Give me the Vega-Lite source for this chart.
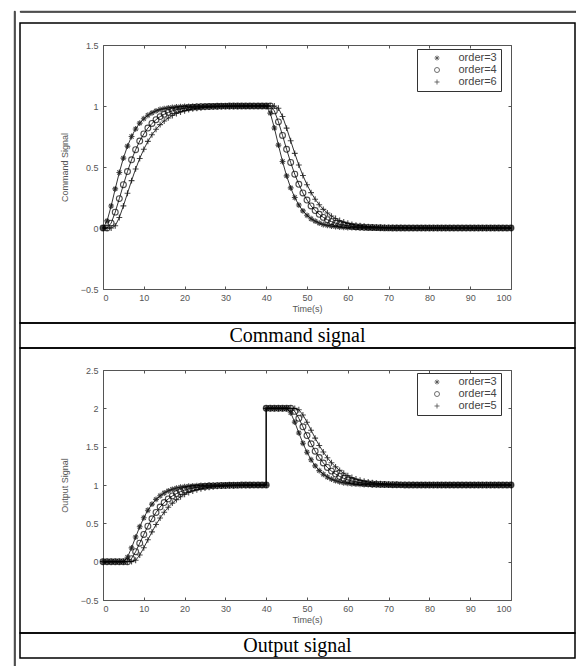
{
"$schema":"https://vega.github.io/schema/vega-lite/v6.json",
"padding":{"left":13,"top":10,"right":0,"bottom":0},
"background":"white",
"config":{"font":"Liberation Sans","view":{"stroke":"black","strokeWidth":1.5},"axis":{"grid":false,"domainColor":"#555","tickColor":"#555","labelColor":"#555","titleColor":"#555","labelFontSize":9,"titleFontSize":9,"titleFontWeight":"normal","domainWidth":1,"tickWidth":1}},
"datasets":{
"cmd":[
{"t":0,"o":"3","v":0},{"t":1,"o":"3","v":0.058},{"t":2,"o":"3","v":0.18},{"t":3,"o":"3","v":0.321},{"t":4,"o":"3","v":0.455},{"t":5,"o":"3","v":0.573},{"t":6,"o":"3","v":0.671},{"t":7,"o":"3","v":0.75},{"t":8,"o":"3","v":0.812},{"t":9,"o":"3","v":0.86},{"t":10,"o":"3","v":0.896},{"t":11,"o":"3","v":0.924},{"t":12,"o":"3","v":0.944},{"t":13,"o":"3","v":0.96},{"t":14,"o":"3","v":0.971},{"t":15,"o":"3","v":0.979},{"t":16,"o":"3","v":0.985},{"t":17,"o":"3","v":0.989},{"t":18,"o":"3","v":0.992},{"t":19,"o":"3","v":0.994},{"t":20,"o":"3","v":0.996},{"t":21,"o":"3","v":0.997},{"t":22,"o":"3","v":0.998},{"t":23,"o":"3","v":0.999},{"t":24,"o":"3","v":0.999},
{"t":25,"o":"3","v":1},{"t":26,"o":"3","v":1},{"t":27,"o":"3","v":1},{"t":28,"o":"3","v":1},{"t":29,"o":"3","v":1},{"t":30,"o":"3","v":1},{"t":31,"o":"3","v":1},{"t":32,"o":"3","v":1},{"t":33,"o":"3","v":1},{"t":34,"o":"3","v":1},{"t":35,"o":"3","v":1},{"t":36,"o":"3","v":1},{"t":37,"o":"3","v":1},{"t":38,"o":"3","v":1},{"t":39,"o":"3","v":1},{"t":40,"o":"3","v":1},
{"t":41,"o":"3","v":0.942},{"t":42,"o":"3","v":0.82},{"t":43,"o":"3","v":0.679},{"t":44,"o":"3","v":0.545},{"t":45,"o":"3","v":0.427},{"t":46,"o":"3","v":0.329},{"t":47,"o":"3","v":0.25},{"t":48,"o":"3","v":0.188},{"t":49,"o":"3","v":0.14},{"t":50,"o":"3","v":0.104},{"t":51,"o":"3","v":0.076},{"t":52,"o":"3","v":0.056},{"t":53,"o":"3","v":0.04},{"t":54,"o":"3","v":0.029},{"t":55,"o":"3","v":0.021},{"t":56,"o":"3","v":0.015},{"t":57,"o":"3","v":0.011},{"t":58,"o":"3","v":0.008},{"t":59,"o":"3","v":0.006},{"t":60,"o":"3","v":0.004},{"t":61,"o":"3","v":0.003},{"t":62,"o":"3","v":0.002},{"t":63,"o":"3","v":0.001},{"t":64,"o":"3","v":0.001},
{"t":65,"o":"3","v":0},{"t":66,"o":"3","v":0},{"t":67,"o":"3","v":0},{"t":68,"o":"3","v":0},{"t":69,"o":"3","v":0},{"t":70,"o":"3","v":0},{"t":71,"o":"3","v":0},{"t":72,"o":"3","v":0},{"t":73,"o":"3","v":0},{"t":74,"o":"3","v":0},{"t":75,"o":"3","v":0},{"t":76,"o":"3","v":0},{"t":77,"o":"3","v":0},{"t":78,"o":"3","v":0},{"t":79,"o":"3","v":0},{"t":80,"o":"3","v":0},{"t":81,"o":"3","v":0},{"t":82,"o":"3","v":0},{"t":83,"o":"3","v":0},{"t":84,"o":"3","v":0},{"t":85,"o":"3","v":0},{"t":86,"o":"3","v":0},{"t":87,"o":"3","v":0},{"t":88,"o":"3","v":0},{"t":89,"o":"3","v":0},{"t":90,"o":"3","v":0},{"t":91,"o":"3","v":0},{"t":92,"o":"3","v":0},{"t":93,"o":"3","v":0},{"t":94,"o":"3","v":0},{"t":95,"o":"3","v":0},{"t":96,"o":"3","v":0},{"t":97,"o":"3","v":0},{"t":98,"o":"3","v":0},{"t":99,"o":"3","v":0},{"t":100,"o":"3","v":0},
{"t":0,"o":"4","v":0},{"t":1,"o":"4","v":0},{"t":2,"o":"4","v":0.04},{"t":3,"o":"4","v":0.13},{"t":4,"o":"4","v":0.241},{"t":5,"o":"4","v":0.355},{"t":6,"o":"4","v":0.463},{"t":7,"o":"4","v":0.559},{"t":8,"o":"4","v":0.642},{"t":9,"o":"4","v":0.713},{"t":10,"o":"4","v":0.771},{"t":11,"o":"4","v":0.819},{"t":12,"o":"4","v":0.857},{"t":13,"o":"4","v":0.888},{"t":14,"o":"4","v":0.913},{"t":15,"o":"4","v":0.932},{"t":16,"o":"4","v":0.948},{"t":17,"o":"4","v":0.96},{"t":18,"o":"4","v":0.969},{"t":19,"o":"4","v":0.976},{"t":20,"o":"4","v":0.982},{"t":21,"o":"4","v":0.986},{"t":22,"o":"4","v":0.989},{"t":23,"o":"4","v":0.992},{"t":24,"o":"4","v":0.994},{"t":25,"o":"4","v":0.995},{"t":26,"o":"4","v":0.996},{"t":27,"o":"4","v":0.997},{"t":28,"o":"4","v":0.998},{"t":29,"o":"4","v":0.999},{"t":30,"o":"4","v":0.999},
{"t":31,"o":"4","v":1},{"t":32,"o":"4","v":1},{"t":33,"o":"4","v":1},{"t":34,"o":"4","v":1},{"t":35,"o":"4","v":1},{"t":36,"o":"4","v":1},{"t":37,"o":"4","v":1},{"t":38,"o":"4","v":1},{"t":39,"o":"4","v":1},{"t":40,"o":"4","v":1},{"t":41,"o":"4","v":1},
{"t":42,"o":"4","v":0.96},{"t":43,"o":"4","v":0.87},{"t":44,"o":"4","v":0.759},{"t":45,"o":"4","v":0.645},{"t":46,"o":"4","v":0.537},{"t":47,"o":"4","v":0.441},{"t":48,"o":"4","v":0.358},{"t":49,"o":"4","v":0.287},{"t":50,"o":"4","v":0.229},{"t":51,"o":"4","v":0.181},{"t":52,"o":"4","v":0.143},{"t":53,"o":"4","v":0.112},{"t":54,"o":"4","v":0.087},{"t":55,"o":"4","v":0.068},{"t":56,"o":"4","v":0.052},{"t":57,"o":"4","v":0.04},{"t":58,"o":"4","v":0.031},{"t":59,"o":"4","v":0.024},{"t":60,"o":"4","v":0.018},{"t":61,"o":"4","v":0.014},{"t":62,"o":"4","v":0.011},{"t":63,"o":"4","v":0.008},{"t":64,"o":"4","v":0.006},{"t":65,"o":"4","v":0.005},{"t":66,"o":"4","v":0.004},{"t":67,"o":"4","v":0.003},{"t":68,"o":"4","v":0.002},{"t":69,"o":"4","v":0.001},{"t":70,"o":"4","v":0.001},
{"t":71,"o":"4","v":0},{"t":72,"o":"4","v":0},{"t":73,"o":"4","v":0},{"t":74,"o":"4","v":0},{"t":75,"o":"4","v":0},{"t":76,"o":"4","v":0},{"t":77,"o":"4","v":0},{"t":78,"o":"4","v":0},{"t":79,"o":"4","v":0},{"t":80,"o":"4","v":0},{"t":81,"o":"4","v":0},{"t":82,"o":"4","v":0},{"t":83,"o":"4","v":0},{"t":84,"o":"4","v":0},{"t":85,"o":"4","v":0},{"t":86,"o":"4","v":0},{"t":87,"o":"4","v":0},{"t":88,"o":"4","v":0},{"t":89,"o":"4","v":0},{"t":90,"o":"4","v":0},{"t":91,"o":"4","v":0},{"t":92,"o":"4","v":0},{"t":93,"o":"4","v":0},{"t":94,"o":"4","v":0},{"t":95,"o":"4","v":0},{"t":96,"o":"4","v":0},{"t":97,"o":"4","v":0},{"t":98,"o":"4","v":0},{"t":99,"o":"4","v":0},{"t":100,"o":"4","v":0},
{"t":0,"o":"6","v":0},{"t":1,"o":"6","v":0},{"t":2,"o":"6","v":0},{"t":3,"o":"6","v":0.018},{"t":4,"o":"6","v":0.086},{"t":5,"o":"6","v":0.181},{"t":6,"o":"6","v":0.285},{"t":7,"o":"6","v":0.388},{"t":8,"o":"6","v":0.484},{"t":9,"o":"6","v":0.57},{"t":10,"o":"6","v":0.645},{"t":11,"o":"6","v":0.71},{"t":12,"o":"6","v":0.764},{"t":13,"o":"6","v":0.809},{"t":14,"o":"6","v":0.847},{"t":15,"o":"6","v":0.877},{"t":16,"o":"6","v":0.902},{"t":17,"o":"6","v":0.922},{"t":18,"o":"6","v":0.938},{"t":19,"o":"6","v":0.951},{"t":20,"o":"6","v":0.961},{"t":21,"o":"6","v":0.97},{"t":22,"o":"6","v":0.976},{"t":23,"o":"6","v":0.981},{"t":24,"o":"6","v":0.985},{"t":25,"o":"6","v":0.989},{"t":26,"o":"6","v":0.991},{"t":27,"o":"6","v":0.993},{"t":28,"o":"6","v":0.995},{"t":29,"o":"6","v":0.996},{"t":30,"o":"6","v":0.997},{"t":31,"o":"6","v":0.997},{"t":32,"o":"6","v":0.998},{"t":33,"o":"6","v":0.998},{"t":34,"o":"6","v":0.999},{"t":35,"o":"6","v":0.999},
{"t":36,"o":"6","v":1},{"t":37,"o":"6","v":1},{"t":38,"o":"6","v":1},{"t":39,"o":"6","v":1},{"t":40,"o":"6","v":1},{"t":41,"o":"6","v":1},{"t":42,"o":"6","v":1},
{"t":43,"o":"6","v":0.982},{"t":44,"o":"6","v":0.914},{"t":45,"o":"6","v":0.819},{"t":46,"o":"6","v":0.715},{"t":47,"o":"6","v":0.612},{"t":48,"o":"6","v":0.516},{"t":49,"o":"6","v":0.43},{"t":50,"o":"6","v":0.355},{"t":51,"o":"6","v":0.29},{"t":52,"o":"6","v":0.236},{"t":53,"o":"6","v":0.191},{"t":54,"o":"6","v":0.153},{"t":55,"o":"6","v":0.123},{"t":56,"o":"6","v":0.098},{"t":57,"o":"6","v":0.078},{"t":58,"o":"6","v":0.062},{"t":59,"o":"6","v":0.049},{"t":60,"o":"6","v":0.039},{"t":61,"o":"6","v":0.03},{"t":62,"o":"6","v":0.024},{"t":63,"o":"6","v":0.019},{"t":64,"o":"6","v":0.015},{"t":65,"o":"6","v":0.011},{"t":66,"o":"6","v":0.009},{"t":67,"o":"6","v":0.007},{"t":68,"o":"6","v":0.005},{"t":69,"o":"6","v":0.004},{"t":70,"o":"6","v":0.003},{"t":71,"o":"6","v":0.003},{"t":72,"o":"6","v":0.002},{"t":73,"o":"6","v":0.002},{"t":74,"o":"6","v":0.001},{"t":75,"o":"6","v":0.001},
{"t":76,"o":"6","v":0},{"t":77,"o":"6","v":0},{"t":78,"o":"6","v":0},{"t":79,"o":"6","v":0},{"t":80,"o":"6","v":0},{"t":81,"o":"6","v":0},{"t":82,"o":"6","v":0},{"t":83,"o":"6","v":0},{"t":84,"o":"6","v":0},{"t":85,"o":"6","v":0},{"t":86,"o":"6","v":0},{"t":87,"o":"6","v":0},{"t":88,"o":"6","v":0},{"t":89,"o":"6","v":0},{"t":90,"o":"6","v":0},{"t":91,"o":"6","v":0},{"t":92,"o":"6","v":0},{"t":93,"o":"6","v":0},{"t":94,"o":"6","v":0},{"t":95,"o":"6","v":0},{"t":96,"o":"6","v":0},{"t":97,"o":"6","v":0},{"t":98,"o":"6","v":0},{"t":99,"o":"6","v":0},{"t":100,"o":"6","v":0}
],
"out":[
{"t":0,"o":"3","v":0},{"t":1,"o":"3","v":0},{"t":2,"o":"3","v":0},{"t":3,"o":"3","v":0},{"t":4,"o":"3","v":0},{"t":5,"o":"3","v":0},{"t":6,"o":"3","v":0.058},{"t":7,"o":"3","v":0.18},{"t":8,"o":"3","v":0.321},{"t":9,"o":"3","v":0.455},{"t":10,"o":"3","v":0.573},{"t":11,"o":"3","v":0.671},{"t":12,"o":"3","v":0.75},{"t":13,"o":"3","v":0.812},{"t":14,"o":"3","v":0.86},{"t":15,"o":"3","v":0.896},{"t":16,"o":"3","v":0.924},{"t":17,"o":"3","v":0.944},{"t":18,"o":"3","v":0.96},{"t":19,"o":"3","v":0.971},{"t":20,"o":"3","v":0.979},{"t":21,"o":"3","v":0.985},{"t":22,"o":"3","v":0.989},{"t":23,"o":"3","v":0.992},{"t":24,"o":"3","v":0.994},{"t":25,"o":"3","v":0.996},{"t":26,"o":"3","v":0.997},{"t":27,"o":"3","v":0.998},{"t":28,"o":"3","v":0.999},{"t":29,"o":"3","v":0.999},
{"t":30,"o":"3","v":1},{"t":31,"o":"3","v":1},{"t":32,"o":"3","v":1},{"t":33,"o":"3","v":1},{"t":34,"o":"3","v":1},{"t":35,"o":"3","v":1},{"t":36,"o":"3","v":1},{"t":37,"o":"3","v":1},{"t":38,"o":"3","v":1},{"t":39,"o":"3","v":1},{"t":40,"o":"3","v":1},{"t":40,"o":"3","v":2},{"t":41,"o":"3","v":2},{"t":42,"o":"3","v":2},{"t":43,"o":"3","v":2},{"t":44,"o":"3","v":2},{"t":45,"o":"3","v":2},
{"t":46,"o":"3","v":1.942},{"t":47,"o":"3","v":1.82},{"t":48,"o":"3","v":1.679},{"t":49,"o":"3","v":1.545},{"t":50,"o":"3","v":1.427},{"t":51,"o":"3","v":1.329},{"t":52,"o":"3","v":1.25},{"t":53,"o":"3","v":1.188},{"t":54,"o":"3","v":1.14},{"t":55,"o":"3","v":1.104},{"t":56,"o":"3","v":1.076},{"t":57,"o":"3","v":1.056},{"t":58,"o":"3","v":1.04},{"t":59,"o":"3","v":1.029},{"t":60,"o":"3","v":1.021},{"t":61,"o":"3","v":1.015},{"t":62,"o":"3","v":1.011},{"t":63,"o":"3","v":1.008},{"t":64,"o":"3","v":1.006},{"t":65,"o":"3","v":1.004},{"t":66,"o":"3","v":1.003},{"t":67,"o":"3","v":1.002},{"t":68,"o":"3","v":1.001},{"t":69,"o":"3","v":1.001},
{"t":70,"o":"3","v":1},{"t":71,"o":"3","v":1},{"t":72,"o":"3","v":1},{"t":73,"o":"3","v":1},{"t":74,"o":"3","v":1},{"t":75,"o":"3","v":1},{"t":76,"o":"3","v":1},{"t":77,"o":"3","v":1},{"t":78,"o":"3","v":1},{"t":79,"o":"3","v":1},{"t":80,"o":"3","v":1},{"t":81,"o":"3","v":1},{"t":82,"o":"3","v":1},{"t":83,"o":"3","v":1},{"t":84,"o":"3","v":1},{"t":85,"o":"3","v":1},{"t":86,"o":"3","v":1},{"t":87,"o":"3","v":1},{"t":88,"o":"3","v":1},{"t":89,"o":"3","v":1},{"t":90,"o":"3","v":1},{"t":91,"o":"3","v":1},{"t":92,"o":"3","v":1},{"t":93,"o":"3","v":1},{"t":94,"o":"3","v":1},{"t":95,"o":"3","v":1},{"t":96,"o":"3","v":1},{"t":97,"o":"3","v":1},{"t":98,"o":"3","v":1},{"t":99,"o":"3","v":1},{"t":100,"o":"3","v":1},
{"t":0,"o":"4","v":0},{"t":1,"o":"4","v":0},{"t":2,"o":"4","v":0},{"t":3,"o":"4","v":0},{"t":4,"o":"4","v":0},{"t":5,"o":"4","v":0},{"t":6,"o":"4","v":0},{"t":7,"o":"4","v":0.04},{"t":8,"o":"4","v":0.13},{"t":9,"o":"4","v":0.241},{"t":10,"o":"4","v":0.355},{"t":11,"o":"4","v":0.463},{"t":12,"o":"4","v":0.559},{"t":13,"o":"4","v":0.642},{"t":14,"o":"4","v":0.713},{"t":15,"o":"4","v":0.771},{"t":16,"o":"4","v":0.819},{"t":17,"o":"4","v":0.857},{"t":18,"o":"4","v":0.888},{"t":19,"o":"4","v":0.913},{"t":20,"o":"4","v":0.932},{"t":21,"o":"4","v":0.948},{"t":22,"o":"4","v":0.96},{"t":23,"o":"4","v":0.969},{"t":24,"o":"4","v":0.976},{"t":25,"o":"4","v":0.982},{"t":26,"o":"4","v":0.986},{"t":27,"o":"4","v":0.989},{"t":28,"o":"4","v":0.992},{"t":29,"o":"4","v":0.994},{"t":30,"o":"4","v":0.995},{"t":31,"o":"4","v":0.996},{"t":32,"o":"4","v":0.997},{"t":33,"o":"4","v":0.998},{"t":34,"o":"4","v":0.999},{"t":35,"o":"4","v":0.999},
{"t":36,"o":"4","v":1},{"t":37,"o":"4","v":1},{"t":38,"o":"4","v":1},{"t":39,"o":"4","v":1},{"t":40,"o":"4","v":1},{"t":40,"o":"4","v":2},{"t":41,"o":"4","v":2},{"t":42,"o":"4","v":2},{"t":43,"o":"4","v":2},{"t":44,"o":"4","v":2},{"t":45,"o":"4","v":2},{"t":46,"o":"4","v":2},
{"t":47,"o":"4","v":1.96},{"t":48,"o":"4","v":1.87},{"t":49,"o":"4","v":1.759},{"t":50,"o":"4","v":1.645},{"t":51,"o":"4","v":1.537},{"t":52,"o":"4","v":1.441},{"t":53,"o":"4","v":1.358},{"t":54,"o":"4","v":1.287},{"t":55,"o":"4","v":1.229},{"t":56,"o":"4","v":1.181},{"t":57,"o":"4","v":1.143},{"t":58,"o":"4","v":1.112},{"t":59,"o":"4","v":1.087},{"t":60,"o":"4","v":1.068},{"t":61,"o":"4","v":1.052},{"t":62,"o":"4","v":1.04},{"t":63,"o":"4","v":1.031},{"t":64,"o":"4","v":1.024},{"t":65,"o":"4","v":1.018},{"t":66,"o":"4","v":1.014},{"t":67,"o":"4","v":1.011},{"t":68,"o":"4","v":1.008},{"t":69,"o":"4","v":1.006},{"t":70,"o":"4","v":1.005},{"t":71,"o":"4","v":1.004},{"t":72,"o":"4","v":1.003},{"t":73,"o":"4","v":1.002},{"t":74,"o":"4","v":1.001},{"t":75,"o":"4","v":1.001},
{"t":76,"o":"4","v":1},{"t":77,"o":"4","v":1},{"t":78,"o":"4","v":1},{"t":79,"o":"4","v":1},{"t":80,"o":"4","v":1},{"t":81,"o":"4","v":1},{"t":82,"o":"4","v":1},{"t":83,"o":"4","v":1},{"t":84,"o":"4","v":1},{"t":85,"o":"4","v":1},{"t":86,"o":"4","v":1},{"t":87,"o":"4","v":1},{"t":88,"o":"4","v":1},{"t":89,"o":"4","v":1},{"t":90,"o":"4","v":1},{"t":91,"o":"4","v":1},{"t":92,"o":"4","v":1},{"t":93,"o":"4","v":1},{"t":94,"o":"4","v":1},{"t":95,"o":"4","v":1},{"t":96,"o":"4","v":1},{"t":97,"o":"4","v":1},{"t":98,"o":"4","v":1},{"t":99,"o":"4","v":1},{"t":100,"o":"4","v":1},
{"t":0,"o":"5","v":0},{"t":1,"o":"5","v":0},{"t":2,"o":"5","v":0},{"t":3,"o":"5","v":0},{"t":4,"o":"5","v":0},{"t":5,"o":"5","v":0},{"t":6,"o":"5","v":0},{"t":7,"o":"5","v":0},{"t":8,"o":"5","v":0.018},{"t":9,"o":"5","v":0.086},{"t":10,"o":"5","v":0.181},{"t":11,"o":"5","v":0.285},{"t":12,"o":"5","v":0.388},{"t":13,"o":"5","v":0.484},{"t":14,"o":"5","v":0.57},{"t":15,"o":"5","v":0.645},{"t":16,"o":"5","v":0.71},{"t":17,"o":"5","v":0.764},{"t":18,"o":"5","v":0.809},{"t":19,"o":"5","v":0.847},{"t":20,"o":"5","v":0.877},{"t":21,"o":"5","v":0.902},{"t":22,"o":"5","v":0.922},{"t":23,"o":"5","v":0.938},{"t":24,"o":"5","v":0.951},{"t":25,"o":"5","v":0.961},{"t":26,"o":"5","v":0.97},{"t":27,"o":"5","v":0.976},{"t":28,"o":"5","v":0.981},{"t":29,"o":"5","v":0.985},{"t":30,"o":"5","v":0.989},{"t":31,"o":"5","v":0.991},{"t":32,"o":"5","v":0.993},{"t":33,"o":"5","v":0.995},{"t":34,"o":"5","v":0.996},{"t":35,"o":"5","v":0.997},{"t":36,"o":"5","v":0.997},{"t":37,"o":"5","v":0.998},{"t":38,"o":"5","v":0.998},{"t":39,"o":"5","v":0.999},{"t":40,"o":"5","v":0.999},
{"t":40,"o":"5","v":2},{"t":41,"o":"5","v":2},{"t":42,"o":"5","v":2},{"t":43,"o":"5","v":2},{"t":44,"o":"5","v":2},{"t":45,"o":"5","v":2},{"t":46,"o":"5","v":2},{"t":47,"o":"5","v":2},
{"t":48,"o":"5","v":1.982},{"t":49,"o":"5","v":1.914},{"t":50,"o":"5","v":1.819},{"t":51,"o":"5","v":1.715},{"t":52,"o":"5","v":1.612},{"t":53,"o":"5","v":1.516},{"t":54,"o":"5","v":1.43},{"t":55,"o":"5","v":1.355},{"t":56,"o":"5","v":1.29},{"t":57,"o":"5","v":1.236},{"t":58,"o":"5","v":1.191},{"t":59,"o":"5","v":1.153},{"t":60,"o":"5","v":1.123},{"t":61,"o":"5","v":1.098},{"t":62,"o":"5","v":1.078},{"t":63,"o":"5","v":1.062},{"t":64,"o":"5","v":1.049},{"t":65,"o":"5","v":1.039},{"t":66,"o":"5","v":1.03},{"t":67,"o":"5","v":1.024},{"t":68,"o":"5","v":1.019},{"t":69,"o":"5","v":1.015},{"t":70,"o":"5","v":1.011},{"t":71,"o":"5","v":1.009},{"t":72,"o":"5","v":1.007},{"t":73,"o":"5","v":1.005},{"t":74,"o":"5","v":1.004},{"t":75,"o":"5","v":1.003},{"t":76,"o":"5","v":1.003},{"t":77,"o":"5","v":1.002},{"t":78,"o":"5","v":1.002},{"t":79,"o":"5","v":1.001},{"t":80,"o":"5","v":1.001},
{"t":81,"o":"5","v":1},{"t":82,"o":"5","v":1},{"t":83,"o":"5","v":1},{"t":84,"o":"5","v":1},{"t":85,"o":"5","v":1},{"t":86,"o":"5","v":1},{"t":87,"o":"5","v":1},{"t":88,"o":"5","v":1},{"t":89,"o":"5","v":1},{"t":90,"o":"5","v":1},{"t":91,"o":"5","v":1},{"t":92,"o":"5","v":1},{"t":93,"o":"5","v":1},{"t":94,"o":"5","v":1},{"t":95,"o":"5","v":1},{"t":96,"o":"5","v":1},{"t":97,"o":"5","v":1},{"t":98,"o":"5","v":1},{"t":99,"o":"5","v":1},{"t":100,"o":"5","v":1}
]
},
"spacing":5,
"bounds":"flush",
"hconcat":[
{"width":1,"height":656,"data":{"values":[]},"mark":"rule","view":{"strokeWidth":0.8},"encoding":{"x":{"field":"a","type":"quantitative","axis":null},"y":{"field":"b","type":"quantitative","axis":null}}},
{"spacing":11,"bounds":"flush","vconcat":[
{"width":556,"height":1,"data":{"values":[]},"mark":"rule","view":{"strokeWidth":0.8},"encoding":{"x":{"field":"a","type":"quantitative","axis":null},"y":{"field":"b","type":"quantitative","axis":null}}},
{"spacing":0,"bounds":"flush","resolve":{"scale":{"shape":"independent"},"legend":{"shape":"independent"}},"vconcat":[
{"width":555,"height":300,"data":{"name":"cmd"},
"layer":[
{"mark":{"type":"line","strokeWidth":0.8,"color":"black"},
"encoding":{
"x":{"field":"t","type":"quantitative","scale":{"domain":[0,100],"range":[83,491],"nice":false},"axis":{"orient":"bottom","offset":-34,"values":[0,10,20,30,40,50,60,70,80,90,100],"format":"d","tickSize":-3,"labelPadding":7,"title":"Time(s)","titlePadding":2}},
"y":{"field":"v","type":"quantitative","scale":{"domain":[-0.5,1.5],"range":[266,22],"nice":false,"zero":false},"axis":{"orient":"left","offset":-83,"values":[-0.5,0,0.5,1,1.5],"format":"~g","tickSize":-3,"labelPadding":8,"title":"Command Signal","titlePadding":11}},
"detail":{"field":"o","type":"nominal"}}},
{"mark":{"type":"point","filled":false,"strokeWidth":1.1,"color":"black","size":34},
"encoding":{
"x":{"field":"t","type":"quantitative","scale":{"domain":[0,100],"range":[83,491],"nice":false},"axis":{"orient":"top","offset":-22,"values":[0,10,20,30,40,50,60,70,80,90,100],"tickSize":-3,"labels":false,"title":null}},
"y":{"field":"v","type":"quantitative","scale":{"domain":[-0.5,1.5],"range":[266,22],"nice":false,"zero":false},"axis":{"orient":"right","offset":-64,"values":[-0.5,0,0.5,1,1.5],"tickSize":-3,"labels":false,"title":null}},
"shape":{"field":"o","type":"nominal","scale":{"domain":["3","4","6"],"range":["M-1,0L1,0M0,-1L0,1M-0.7,-0.7L0.7,0.7M-0.7,0.7L0.7,-0.7","circle","M-1,0L1,0M0,-1L0,1"]},
"legend":{"orient":"none","legendX":397,"legendY":26,"title":null,"labelExpr":"'order=' + datum.label + '   '","strokeColor":"#333","fillColor":"white","padding":3.5,"labelFontSize":11,"labelColor":"#444","symbolStrokeColor":"black","symbolStrokeWidth":0.8,"symbolSize":25,"symbolOffset":11,"labelOffset":16,"rowPadding":0}}}}
]},
{"width":555,"height":25,"data":{"values":[{"c":"Command signal"}]},"mark":{"type":"text","font":"Liberation Serif","fontSize":20,"color":"black","baseline":"middle"},"encoding":{"x":{"field":"c","type":"nominal","axis":null},"y":{"field":"c","type":"nominal","axis":null},"text":{"field":"c"}}},
{"width":555,"height":285,"data":{"name":"out"},
"layer":[
{"mark":{"type":"line","strokeWidth":0.8,"color":"black"},
"encoding":{
"x":{"field":"t","type":"quantitative","scale":{"domain":[0,100],"range":[83,491],"nice":false},"axis":{"orient":"bottom","offset":-33,"values":[0,10,20,30,40,50,60,70,80,90,100],"format":"d","tickSize":-3,"labelPadding":7,"title":"Time(s)","titlePadding":2}},
"y":{"field":"v","type":"quantitative","scale":{"domain":[-0.5,2.5],"range":[252,22],"nice":false,"zero":false},"axis":{"orient":"left","offset":-83,"values":[-0.5,0,0.5,1,1.5,2,2.5],"format":"~g","tickSize":-3,"labelPadding":8,"title":"Output Signal","titlePadding":11}},
"detail":{"field":"o","type":"nominal"}}},
{"mark":{"type":"point","filled":false,"strokeWidth":1.1,"color":"black","size":34},
"encoding":{
"x":{"field":"t","type":"quantitative","scale":{"domain":[0,100],"range":[83,491],"nice":false},"axis":{"orient":"top","offset":-22,"values":[0,10,20,30,40,50,60,70,80,90,100],"tickSize":-3,"labels":false,"title":null}},
"y":{"field":"v","type":"quantitative","scale":{"domain":[-0.5,2.5],"range":[252,22],"nice":false,"zero":false},"axis":{"orient":"right","offset":-64,"values":[-0.5,0,0.5,1,1.5,2,2.5],"tickSize":-3,"labels":false,"title":null}},
"shape":{"field":"o","type":"nominal","scale":{"domain":["3","4","5"],"range":["M-1,0L1,0M0,-1L0,1M-0.7,-0.7L0.7,0.7M-0.7,0.7L0.7,-0.7","circle","M-1,0L1,0M0,-1L0,1"]},
"legend":{"orient":"none","legendX":397,"legendY":25,"title":null,"labelExpr":"'order=' + datum.label + '   '","strokeColor":"#333","fillColor":"white","padding":3.5,"labelFontSize":11,"labelColor":"#444","symbolStrokeColor":"black","symbolStrokeWidth":0.8,"symbolSize":25,"symbolOffset":11,"labelOffset":16,"rowPadding":0}}}}
]},
{"width":555,"height":25,"data":{"values":[{"c":"Output signal"}]},"mark":{"type":"text","font":"Liberation Serif","fontSize":20,"color":"black","baseline":"middle"},"encoding":{"x":{"field":"c","type":"nominal","axis":null},"y":{"field":"c","type":"nominal","axis":null},"text":{"field":"c"}}}
]}
]}
]
}
